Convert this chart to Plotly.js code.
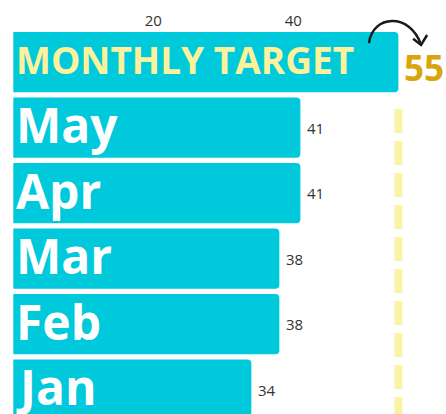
<!DOCTYPE html>
<html>
<head>
<meta charset="utf-8">
<script src="https://cdn.plot.ly/plotly-3.0.1.min.js"></script>
<style>html,body{margin:0;padding:0;background:#fff;}#chart{width:446px;height:414px;}</style>
</head>
<body>
<div id="chart"></div>
<script>
const categories = ['Jan', 'Feb', 'Mar', 'Apr', 'May', 'MONTHLY TARGET'];
const values = [34, 38, 38, 41, 41, 55];
const tickVals = [20, 40];
const targetValue = 55;
const targetLabel = 'MONTHLY TARGET';

const CYAN = '#00C9DB';
const YELLOW = '#FCF29B';
const GOLD = '#D8A50B';
const DASH = '#FBF3A4';
const FONT = 'Open Sans, sans-serif';

const trace = {
  type: 'bar',
  orientation: 'h',
  y: categories,
  x: values,
  marker: {color: CYAN},
  hoverinfo: 'none',
  cliponaxis: false
};

const annotations = [];
categories.forEach((c, i) => {
  const isTarget = c === targetLabel;
  annotations.push({
    x: 0, y: c, xref: 'x', yref: 'y',
    xanchor: 'left', yanchor: 'middle',
    xshift: 1, yshift: 3,
    text: c, showarrow: false,
    font: {family: FONT, size: isTarget ? 37 : 48, color: isTarget ? YELLOW : '#FFFFFF', weight: 700}
  });
  annotations.push({
    x: values[i], y: c, xref: 'x', yref: 'y',
    xanchor: 'left', yanchor: 'middle',
    xshift: isTarget ? 4 : 5, yshift: isTarget ? -5 : 0,
    text: String(values[i]), showarrow: false,
    font: isTarget ? {family: FONT, size: 35, color: GOLD, weight: 700}
                   : {family: FONT, size: 15, color: '#333333'}
  });
});

// decorative curved arrow above the target bar end (offsets relative to target value)
const ax = d => targetValue + d;
const arrowPath = `M ${ax(-4.19)},0.966 C ${ax(-3.76)},1.039 ${ax(1.67)},1.047 ${ax(3.24)},0.961`;
const headPath = `M ${ax(2.1)},0.977 L ${ax(3.24)},0.961 L ${ax(4.1)},0.987`;

const shapes = [
  {
    type: 'line', xref: 'x', yref: 'paper',
    x0: targetValue, x1: targetValue, y0: 0.794, y1: 0,
    line: {color: DASH, width: 8, dash: '24px,8px'},
    layer: 'below'
  },
  {type: 'path', xref: 'x', yref: 'paper', path: arrowPath, line: {color: '#1a1a1a', width: 2.5}},
  {type: 'path', xref: 'x', yref: 'paper', path: headPath, line: {color: '#1a1a1a', width: 2.5}}
];

const layout = {
  width: 446, height: 414,
  margin: {l: 12, r: 0, t: 30, b: 0, pad: 0},
  paper_bgcolor: '#FFFFFF', plot_bgcolor: '#FFFFFF',
  showlegend: false,
  bargap: 0.08,
  barcornerradius: 4,
  xaxis: {
    side: 'top', range: [-0.186, 61.8],
    tickvals: tickVals, ticks: '',
    showgrid: false, zeroline: false, showline: false,
    tickfont: {family: FONT, size: 15, color: '#333333'},
    fixedrange: true
  },
  yaxis: {
    type: 'category', categoryorder: 'array', categoryarray: categories,
    range: [-0.374, 5.489],
    showticklabels: false, showgrid: false, zeroline: false, showline: false, ticks: '',
    fixedrange: true
  },
  annotations: annotations,
  shapes: shapes
};

Plotly.newPlot('chart', [trace], layout, {displayModeBar: false, staticPlot: true});
</script>
</body>
</html>
